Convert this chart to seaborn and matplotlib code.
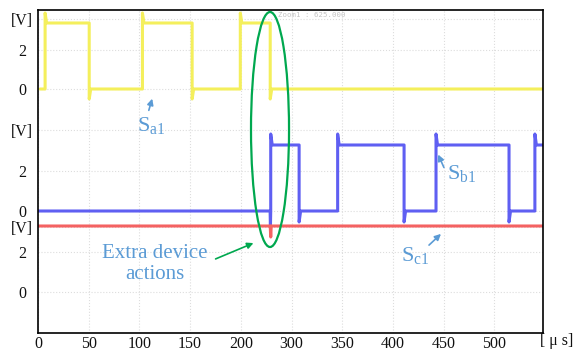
import numpy as np
import pandas as pd
import matplotlib.pyplot as plt
import seaborn as sns
from matplotlib.patches import Ellipse

sns.set_theme(style="white")
plt.rcParams['font.family'] = ['Liberation Serif', 'DejaVu Serif']
plt.rcParams['mathtext.fontset'] = 'custom'
plt.rcParams['mathtext.rm'] = 'Liberation Serif'

# time axis (tick positions and the printed labels)
x_ticks = [0, 50, 100, 150, 200, 250, 300, 350, 400, 450]
x_labels = ['0', '50', '100', '150', '200', '300', '350', '400', '450', '500']
x_end = 498

# channel baselines (V) on the shared axis and the level of each high state
offsets = {'Sa1': 10.15, 'Sb1': 4.05, 'Sc1': 0.0}
high_level = 3.3

# switching edges
sa1_edges = [7, 50.5, 103, 152, 199.5, 229]
sb1_edges = [229.5, 257.5, 295.5, 361, 392.5, 464.5, 490]
overshoot = [0.5, 0.55]          # Sa1, Sb1 ring at each edge
sb1_glitch = -0.85               # extra action at t = 229.5
sc1_glitch = 2.75
glitch_t = 229.5

# y ticks: value, label
y_ticks = [0, 2, 3.25, 4.05, 6.05, 8.1, 10.15, 12.1, 13.65]
y_labels = ['0', '2', '[V]', '0', '2', '[V]', '0', '2', '[V]']


def square_wave(edges, start, stop, base, ring, glitch=None):
    xs, ys = [start], [base]
    level = 0.0
    for t in edges:
        new = high_level if level == 0 else 0.0
        sign = 1 if new > level else -1
        if glitch is not None and t == glitch_t:
            xs += [t - 0.6, t - 0.3]
            ys += [base + level, base + glitch]
        xs += [t, t, t + 1.5]
        ys += [base + level, base + new + sign * ring, base + new]
        level = new
    xs.append(stop)
    ys.append(base + level)
    return xs, ys


xa, ya = square_wave(sa1_edges, 2, x_end, offsets['Sa1'], overshoot[0])
xb, yb = square_wave(sb1_edges, 0, x_end, offsets['Sb1'], overshoot[1], sb1_glitch)
xc = [0, glitch_t - 0.5, glitch_t, glitch_t + 0.5, x_end]
yc = [high_level, high_level, sc1_glitch, high_level, high_level]

df = pd.concat([
    pd.DataFrame({'t': xa, 'v': ya, 'ch': 'Sa1'}),
    pd.DataFrame({'t': xb, 'v': yb, 'ch': 'Sb1'}),
    pd.DataFrame({'t': xc, 'v': yc, 'ch': 'Sc1'}),
])

fig = plt.figure(figsize=(5.79, 3.52), dpi=100)
ax = fig.add_axes([38 / 579, 19 / 352, 505 / 579, 323 / 352])

sns.lineplot(data=df, x='t', y='v', hue='ch', estimator=None, sort=False,
             palette={'Sa1': '#f4ef5c', 'Sb1': '#5f5ff2', 'Sc1': '#f46262'},
             linewidth=2.2, legend=False, ax=ax)

ax.set_xlim(0, x_end)
ax.set_ylim(-2.05, 14.1)
ax.set_xticks(x_ticks)
ax.set_xticklabels(x_labels)
ax.set_yticks(y_ticks)
ax.set_yticklabels(y_labels, ha='center')
ax.set_xlabel('')
ax.set_ylabel('')
ax.tick_params(axis='both', direction='in', length=7, width=1.2, color='black',
               labelsize=11.5, labelcolor='#111111')
ax.tick_params(axis='y', pad=11.5)
ax.tick_params(axis='x', pad=2)
ax.grid(True, linestyle=':', linewidth=0.8, color='#dddddd')
for s in ax.spines.values():
    s.set_color('black')
    s.set_linewidth(1.2)

txt = '#5b9bd5'
arrow = dict(arrowstyle='-|>', color=txt, lw=1.2, mutation_scale=9)
ax.annotate('', xy=(113.4, 9.8), xytext=(108.5, 8.95), arrowprops=arrow)
ax.text(111.4, 8.3, r'$\mathrm{S}_{\mathrm{a1}}$', color=txt, fontsize=16,
        ha='center', va='center')
ax.annotate('', xy=(393.5, 7.0), xytext=(401.4, 6.1), arrowprops=arrow)
ax.text(418, 5.9, r'$\mathrm{S}_{\mathrm{b1}}$', color=txt, fontsize=16,
        ha='center', va='center')
ax.annotate('', xy=(399.4, 3.0), xytext=(383.6, 2.25), arrowprops=arrow)
ax.text(371.8, 1.8, r'$\mathrm{S}_{\mathrm{c1}}$', color=txt, fontsize=16,
        ha='center', va='center')

ax.text(115.4, 1.4, 'Extra device\nactions', color=txt, fontsize=15,
        ha='center', va='center', linespacing=1.15)
ax.annotate('', xy=(215, 2.5), xytext=(172.6, 1.6),
            arrowprops=dict(arrowstyle='-|>', color='#00a84f', lw=1.2,
                            mutation_scale=9))
ax.add_patch(Ellipse((228.8, 8.125), 37.5, 11.75, fill=False,
                     edgecolor='#00a84f', linewidth=1.6, zorder=5))

fig.text(278 / 579, 1 - 15 / 352, 'Zoom1 : 625.000', color='#c4c4c4',
         fontsize=5.3, family='DejaVu Sans Mono', va='center')
fig.text(557 / 579, 1 - 341 / 352, '[ \u03bc s]', fontsize=11.5,
         ha='center', va='center', color='#111111')

fig.savefig('out.png', dpi=100)
